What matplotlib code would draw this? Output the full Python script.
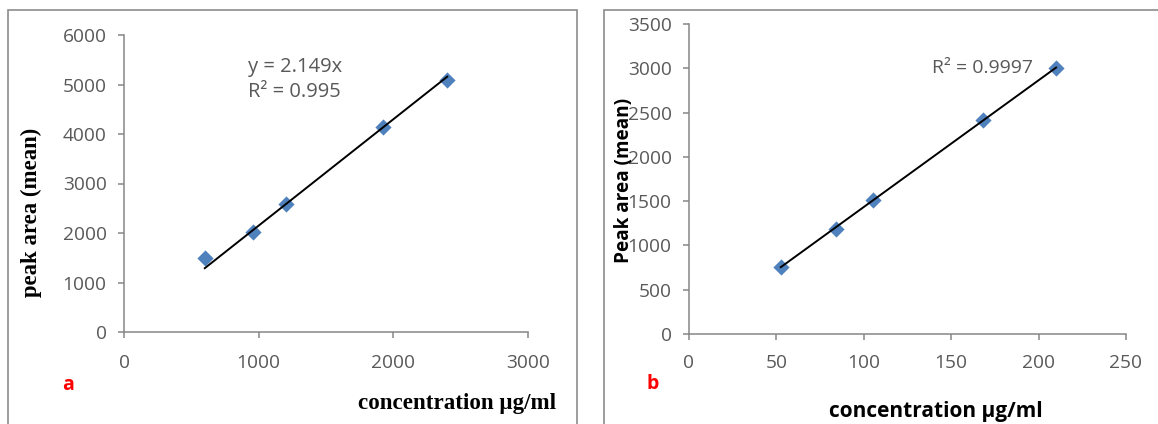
import matplotlib

matplotlib.use("Agg")
import matplotlib.pyplot as plt
import numpy as np
from matplotlib.patches import Rectangle

# panel a data
conc_a = np.array([600, 960, 1200, 1920, 2400])
area_a = np.array([1490, 2020, 2590, 4150, 5100])
slope_a = 2.149

# panel b data
conc_b = np.array([52.5, 84, 105, 168, 210])
area_b = np.array([760, 1190, 1510, 2420, 3000])

blue = "#4F81BD"
tick_grey = "#595959"
axis_grey = "#868686"
W, H = 1158, 424

fig = plt.figure(figsize=(W / 100, H / 100), dpi=100)


def fx(px):
    return px / W


def fy(py):
    return 1 - py / H


# panel frames
for left, right in [(8, 577), (604, 1170)]:
    fig.add_artist(Rectangle((fx(left), -0.1), fx(right - left), fy(10) + 0.1,
                             transform=fig.transFigure, fill=False,
                             edgecolor="#8c8c8c", linewidth=1.2, clip_on=False))


def style_axes(ax, xpad):
    for s in ["top", "right"]:
        ax.spines[s].set_visible(False)
    for s in ["left", "bottom"]:
        ax.spines[s].set_color(axis_grey)
        ax.spines[s].set_linewidth(1.1)
    ax.tick_params(direction="out", length=4.5, width=1.1, color=axis_grey,
                   labelcolor=tick_grey, labelsize=13.8)
    ax.tick_params(axis="y", pad=8)
    ax.tick_params(axis="x", pad=xpad)
    for lab in ax.get_xticklabels() + ax.get_yticklabels():
        lab.set_fontfamily("Open Sans")


# ---- panel a
ax1 = fig.add_axes([fx(124), fy(332), fx(528 - 124), fy(35) - fy(332)])
ax1.set_xlim(0, 3000)
ax1.set_ylim(0, 6000)
ax1.set_xticks([0, 1000, 2000, 3000])
ax1.set_yticks(np.arange(0, 6001, 1000))
style_axes(ax1, 11.5)
xs = np.array([conc_a.min(), conc_a.max()])
ax1.plot(xs, slope_a * xs, color="black", lw=1.4, zorder=3)
ax1.scatter(conc_a, area_a, marker="D", s=68, color=blue, zorder=2, linewidths=0)
ax1.text(920, 5360, "y = 2.149x", fontsize=14.5, color=tick_grey,
         family="Open Sans", va="center")
ax1.text(920, 4850, "R² = 0.995", fontsize=14.5, color=tick_grey,
         family="Open Sans", va="center")
fig.text(fx(31), fy(212), "peak area (mean)", rotation=90, ha="center", va="center",
         fontsize=16.4, fontweight="bold", family="Liberation Serif")
fig.text(fx(556), fy(403), "concentration µg/ml", ha="right", va="center",
         fontsize=16.6, fontweight="bold", family="Liberation Serif")
fig.text(fx(68), fy(385), "a", ha="center", va="center", color="#ff0000",
         fontsize=14, fontweight="bold", family="Open Sans")

# ---- panel b
ax2 = fig.add_axes([fx(689), fy(334), fx(1126 - 689), fy(24) - fy(334)])
ax2.set_xlim(0, 250)
ax2.set_ylim(0, 3500)
ax2.set_xticks(np.arange(0, 251, 50))
ax2.set_yticks(np.arange(0, 3501, 500))
style_axes(ax2, 10)
m, c = np.polyfit(conc_b, area_b, 1)
xs = np.array([conc_b.min(), conc_b.max()])
ax2.plot(xs, m * xs + c, color="black", lw=1.4, zorder=3)
ax2.scatter(conc_b, area_b, marker="D", s=68, color=blue, zorder=2, linewidths=0)
ax2.text(197, 3000, "R² = 0.9997", fontsize=14, color=tick_grey,
         family="Open Sans", va="center", ha="right")
fig.text(fx(624), fy(180), "Peak area (mean)", rotation=90, ha="center", va="center",
         fontsize=13.7, fontweight="bold", family="Open Sans")
fig.text(fx(936), fy(411), "concentration µg/ml", ha="center", va="center",
         fontsize=15, fontweight="bold", family="Open Sans")
fig.text(fx(653), fy(384), "b", ha="center", va="center", color="#ff0000",
         fontsize=14, fontweight="bold", family="Open Sans")

fig.savefig("out.png", dpi=100)
